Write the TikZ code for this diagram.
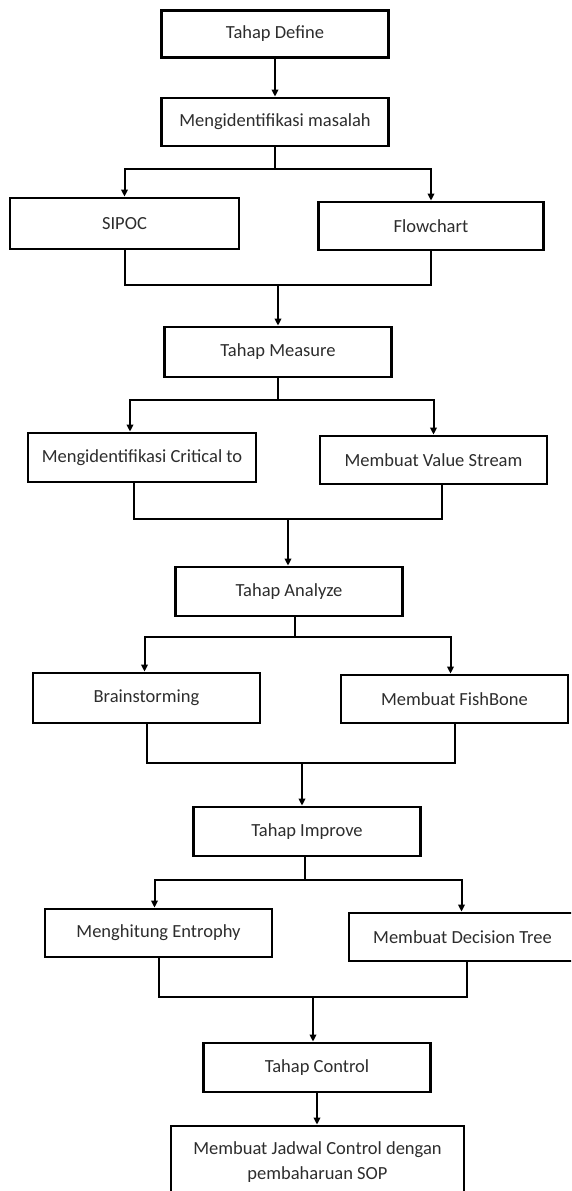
\documentclass[tikz,border=0pt]{standalone}
\usepackage{fontspec}
\setmainfont{Carlito}
\usetikzlibrary{arrows.meta}
\definecolor{inkgray}{RGB}{45,45,45}
\begin{document}
\begin{tikzpicture}[x=1pt,y=-1pt,
  stepbox/.style={draw=black,line width=2.8pt,fill=white,inner sep=0pt,
    minimum width=227pt,minimum height=48pt,text=inkgray,
    font=\fontsize{18.5}{25}\selectfont,align=center},
  conn/.style={draw=black,line width=2pt},
  arrowc/.style={conn,-{Triangle[length=7pt,width=6.5pt]}}]
\useasboundingbox (0,0) rectangle (571,1191);
\fill[white] (0,0) rectangle (571,1191);
\clip (0,0) rectangle (571,1191);

% boxes
\node[stepbox,minimum height=47pt] (define)  at (275,34)    {Tahap Define};
\node[stepbox]                     (masalah) at (275,122)   {Mengidentifikasi masalah};
\node[stepbox,minimum width=229pt,minimum height=51pt] (sipoc) at (124.5,223.5) {SIPOC};
\node[stepbox,minimum width=225pt] (flow)    at (431,226)   {Flowchart};
\node[stepbox,minimum height=50pt] (measure) at (278,352)   {Tahap Measure};
\node[stepbox,minimum width=228pt,minimum height=49pt] (crit) at (142,457.5) {Mengidentifikasi Critical to};
\node[stepbox]                     (value)   at (433.5,460) {Membuat Value Stream};
\node[stepbox,minimum height=49pt] (analyze) at (289,591.5) {Tahap Analyze};
\node[stepbox,minimum height=50pt] (brain)   at (146.5,698) {Brainstorming};
\node[stepbox]                     (fish)    at (454.5,699) {Membuat FishBone};
\node[stepbox,minimum height=49pt] (improve) at (307,831.5) {Tahap Improve};
\node[stepbox]                     (entro)   at (158.5,933) {Menghitung Entrophy};
\node[stepbox]                     (decision) at (462.5,937) {Membuat Decision Tree};
\node[stepbox,minimum height=49pt] (control) at (317,1067.5) {Tahap Control};
\node[stepbox,minimum width=293pt,minimum height=73pt] (last) at (317.5,1162.5)
  {Membuat Jadwal Control dengan\\pembaharuan SOP};

% junction points
\coordinate (s1) at (275,169);
\coordinate (m1) at (278,285);
\coordinate (s2) at (278,400);
\coordinate (m2) at (288,519);
\coordinate (s3) at (295,637);
\coordinate (m3) at (302,763);
\coordinate (s4) at (305,880);
\coordinate (m4) at (313,997);

% Define
\draw[arrowc] (define) -- (masalah);
\draw[conn] (masalah.south) -- (s1);
\draw[arrowc] (s1) -| (sipoc.north);
\draw[arrowc] (s1) -| (flow.north);
\draw[conn] (sipoc.south) |- (m1) -| (flow.south);
\draw[arrowc] (m1) -- (measure.north);

% Measure
\draw[conn] (measure.south) -- (s2);
\draw[arrowc] (s2) -| ([xshift=-12pt]crit.north);
\draw[arrowc] (s2) -| (value.north);
\draw[conn] ([xshift=-8pt]crit.south) |- (m2) -| ([xshift=8pt]value.south);
\draw[arrowc] (m2) -- (m2 |- analyze.north);

% Analyze
\draw[conn] (s3 |- analyze.south) -- (s3);
\draw[arrowc] (s3) -| ([xshift=-2pt]brain.north);
\draw[arrowc] (s3) -| ([xshift=-4pt]fish.north);
\draw[conn] (brain.south) |- (m3) -| (fish.south);
\draw[arrowc] (m3) -- (m3 |- improve.north);

% Improve
\draw[conn] (s4 |- improve.south) -- (s4);
\draw[arrowc] (s4) -| ([xshift=-4pt]entro.north);
\draw[arrowc] (s4) -| ([xshift=-1pt]decision.north);
\draw[conn] (entro.south) |- (m4) -| ([xshift=4.5pt]decision.south);
\draw[arrowc] (m4) -- (m4 |- control.north);

% Control
\draw[arrowc] (control) -- (control |- last.north);
\end{tikzpicture}
\end{document}
